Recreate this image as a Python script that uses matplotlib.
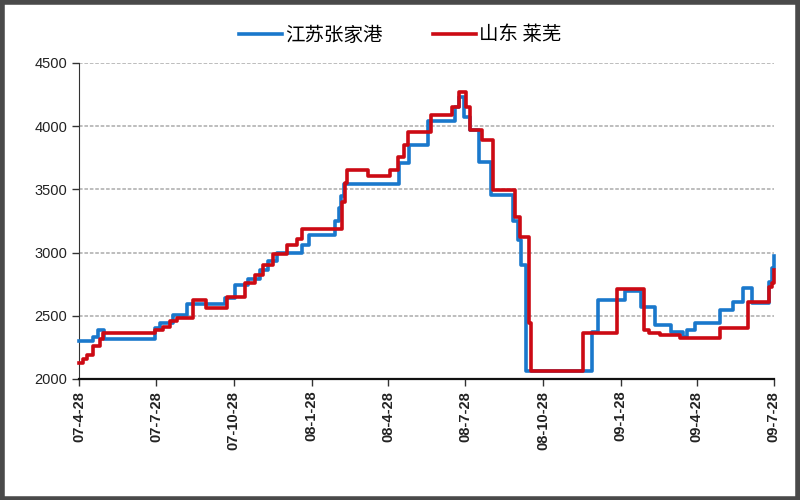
"""Steel price chart: Jiangsu Zhangjiagang vs Shandong Laiwu, 2007-2009."""
import pandas as pd
import matplotlib
matplotlib.use("Agg")
import matplotlib.pyplot as plt
from matplotlib.patches import Rectangle

# breakpoints of the step series (date, price)
blue_dates = [
    "2007-04-28", "2007-05-14", "2007-05-20", "2007-05-27", "2007-07-27",
    "2007-08-02", "2007-08-17", "2007-09-03", "2007-10-18", "2007-10-30",
    "2007-11-14", "2007-11-28", "2007-12-08", "2007-12-18", "2008-01-17",
    "2008-01-25", "2008-02-25", "2008-02-29", "2008-03-03", "2008-03-07",
    "2008-05-10", "2008-05-22", "2008-06-14", "2008-07-16", "2008-07-21",
    "2008-07-27", "2008-08-03", "2008-08-13", "2008-08-27", "2008-09-23",
    "2008-09-28", "2008-10-02", "2008-10-08", "2008-12-25", "2009-01-01",
    "2009-02-02", "2009-02-21", "2009-03-10", "2009-03-28", "2009-04-12",
    "2009-04-17", "2009-04-26", "2009-05-26", "2009-06-10", "2009-06-22",
    "2009-07-02", "2009-07-22", "2009-07-26", "2009-07-29",
]
blue_values = [
    2300, 2335, 2390, 2315, 2400,
    2440, 2510, 2590, 2640, 2745,
    2790, 2860, 2930, 2995, 3060,
    3140, 3250, 3350, 3450, 3540,
    3710, 3850, 4040, 4150, 4230,
    4075, 3970, 3720, 3455, 3250,
    3100, 2900, 2060, 2375, 2625,
    2700, 2570, 2430, 2375, 2335,
    2390, 2440, 2545, 2610, 2720,
    2600, 2770, 2880, 2970,
]

red_dates = [
    "2007-04-28", "2007-05-03", "2007-05-07", "2007-05-14", "2007-05-23",
    "2007-05-26", "2007-07-27", "2007-08-05", "2007-08-13", "2007-08-22",
    "2007-09-10", "2007-09-25", "2007-10-20", "2007-11-10", "2007-11-22",
    "2007-12-02", "2007-12-14", "2007-12-30", "2008-01-11", "2008-01-17",
    "2008-03-04", "2008-03-08", "2008-03-10", "2008-04-04", "2008-04-30",
    "2008-05-09", "2008-05-16", "2008-05-21", "2008-06-17", "2008-07-12",
    "2008-07-21", "2008-07-29", "2008-08-03", "2008-08-17", "2008-08-30",
    "2008-09-25", "2008-10-01", "2008-10-11", "2008-10-14", "2008-12-14",
    "2009-01-24", "2009-02-24", "2009-03-03", "2009-03-16", "2009-04-08",
    "2009-05-26", "2009-06-28", "2009-07-22", "2009-07-26", "2009-07-29",
]
red_values = [
    2130, 2160, 2190, 2265, 2320,
    2365, 2390, 2415, 2460, 2480,
    2625, 2565, 2650, 2760, 2825,
    2900, 2990, 3060, 3110, 3190,
    3400, 3550, 3650, 3605, 3655,
    3755, 3850, 3955, 4090, 4150,
    4270, 4150, 3970, 3890, 3495,
    3285, 3125, 2440, 2060, 2360,
    2715, 2390, 2360, 2345, 2322,
    2400, 2610, 2730, 2760, 2860,
]

tick_dates = [
    "2007-04-28", "2007-07-28", "2007-10-28", "2008-01-28", "2008-04-28",
    "2008-07-28", "2008-10-28", "2009-01-28", "2009-04-28", "2009-07-28",
]
tick_labels = [
    "07-4-28", "07-7-28", "07-10-28", "08-1-28", "08-4-28",
    "08-7-28", "08-10-28", "09-1-28", "09-4-28", "09-7-28",
]
y_ticks = [2000, 2500, 3000, 3500, 4000, 4500]

BLUE = "#1a78cc"
RED = "#cc0a14"
CJK = ["Noto Sans CJK SC", "DejaVu Sans"]

fig = plt.figure(figsize=(8, 5), dpi=100)
ax = fig.add_axes([0.099, 0.242, 0.868, 0.632])

ax.plot(pd.to_datetime(blue_dates), blue_values, drawstyle="steps-post",
        color=BLUE, lw=2.6, label="江苏张家港", zorder=3, clip_on=False)
ax.plot(pd.to_datetime(red_dates), red_values, drawstyle="steps-post",
        color=RED, lw=2.6, label="山东 莱芜", zorder=4, clip_on=False)

ax.set_xlim(pd.Timestamp(tick_dates[0]), pd.Timestamp(tick_dates[-1]))
ax.set_ylim(2000, 4500)
ax.set_xticks(pd.to_datetime(tick_dates))
ax.set_xticklabels(tick_labels, rotation=90, fontsize=10.5,
                   family="Liberation Sans", fontweight="bold", color="#222222")
ax.set_yticks(y_ticks)
ax.set_yticklabels([str(v) for v in y_ticks], fontsize=10.5,
                   family="Liberation Sans", color="#222222")
ax.tick_params(axis="both", direction="out", length=5, width=1, color="#333333")

for v in y_ticks[1:]:
    ax.axhline(v, color="#b8b8b8", lw=1.3, ls=(0, (2, 1)), zorder=1)

for side in ("top", "right"):
    ax.spines[side].set_visible(False)
ax.spines["left"].set_color("#333333")
ax.spines["bottom"].set_color("#111111")
ax.spines["bottom"].set_linewidth(1.6)

fig.legend(loc="center", bbox_to_anchor=(0.5, 0.93), ncol=2, frameon=False,
           prop={"family": CJK, "size": 14}, handlelength=2.2,
           columnspacing=2.6, handletextpad=0.15)

# dark frame around the picture
fig.patches.append(Rectangle((0.002, 0.003), 0.996, 0.994, transform=fig.transFigure,
                             fill=False, edgecolor="#4a4a4a", lw=4))

fig.savefig("out.png", dpi=100)
